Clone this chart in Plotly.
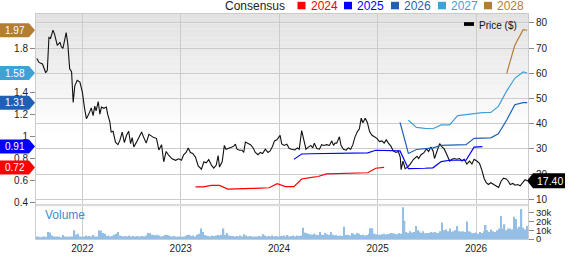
import plotly.graph_objects as go
import pandas as pd

# ---------------- data ----------------
price_dates = [
    "2021-07-16","2021-07-24","2021-08-06","2021-08-18","2021-08-24","2021-08-30","2021-09-05","2021-09-14",
    "2021-09-20","2021-09-30","2021-10-10","2021-10-15","2021-10-21","2021-11-02","2021-11-08","2021-11-15",
    "2021-11-22","2021-11-28","2021-12-04","2021-12-13","2021-12-23","2022-01-01","2022-01-09","2022-01-16",
    "2022-01-25","2022-02-03","2022-02-10","2022-02-16","2022-02-21","2022-03-01","2022-03-07","2022-03-13",
    "2022-03-22","2022-03-31","2022-04-05","2022-04-13","2022-04-18","2022-04-25","2022-05-04","2022-05-13",
    "2022-05-20","2022-05-29","2022-06-06","2022-06-14","2022-06-22","2022-06-29","2022-07-05","2022-07-11",
    "2022-07-21","2022-07-30","2022-08-09","2022-08-17","2022-08-26","2022-09-05","2022-09-14","2022-09-23",
    "2022-10-03","2022-10-12","2022-10-22","2022-10-30","2022-11-08","2022-11-18","2022-11-30","2022-12-13",
    "2022-12-25","2023-01-04","2023-01-12","2023-01-21","2023-01-29","2023-02-06","2023-02-15","2023-02-25",
    "2023-03-07","2023-03-19","2023-03-28","2023-04-06","2023-04-15","2023-04-25","2023-05-04","2023-05-13",
    "2023-05-20","2023-05-25","2023-06-04","2023-06-12","2023-06-18","2023-06-28","2023-07-08","2023-07-17",
    "2023-07-23","2023-07-29","2023-08-07","2023-08-17","2023-08-23","2023-08-29","2023-09-08","2023-09-17",
    "2023-09-27","2023-10-05","2023-10-15","2023-10-24","2023-11-01","2023-11-11","2023-11-21","2023-11-29",
    "2023-12-08","2023-12-15","2023-12-24","2024-01-05","2024-01-11","2024-01-20","2024-01-30","2024-02-08",
    "2024-02-17","2024-02-29","2024-03-09","2024-03-16","2024-03-25","2024-04-03","2024-04-10","2024-04-19",
    "2024-04-28","2024-05-05","2024-05-11","2024-05-20","2024-05-30","2024-06-07","2024-06-16","2024-06-26",
    "2024-07-06","2024-07-15","2024-07-21","2024-07-27","2024-08-02","2024-08-12","2024-08-18","2024-08-27",
    "2024-09-06","2024-09-14","2024-09-23","2024-10-01","2024-10-09","2024-10-18","2024-10-25","2024-11-01",
    "2024-11-07","2024-11-16","2024-11-24","2024-12-02","2024-12-11","2024-12-20","2024-12-29","2025-01-08",
    "2025-01-17","2025-01-25","2025-02-02","2025-02-10","2025-02-19","2025-02-28","2025-03-10","2025-03-19",
    "2025-03-26","2025-03-29","2025-04-05","2025-04-13","2025-04-22","2025-05-02","2025-05-14","2025-05-27",
    "2025-06-02","2025-06-11","2025-06-21","2025-07-01","2025-07-09","2025-07-18","2025-07-26","2025-07-31",
    "2025-08-09","2025-08-19","2025-08-28","2025-09-05","2025-09-15","2025-09-25","2025-10-04","2025-10-12",
    "2025-10-22","2025-11-01","2025-11-10","2025-11-18","2025-11-28","2025-12-08","2025-12-17","2025-12-25",
    "2026-01-04","2026-01-14","2026-01-23","2026-01-31","2026-02-08","2026-02-16","2026-02-25","2026-03-07",
    "2026-03-17","2026-03-26","2026-04-04","2026-04-13","2026-04-23","2026-05-01","2026-05-08","2026-05-18",
    "2026-05-26","2026-06-04","2026-06-14","2026-06-24","2026-07-02","2026-07-10",
]
price_values = [
    65.9, 64.3, 63.7, 60.2, 61.2, 74.2, 73.8, 77.1,
    75.4, 71.1, 72.3, 70.5, 69.9, 76.1, 71.7, 61.8,
    60.6, 48.4, 55.0, 57.2, 56.5, 52.5, 46.3, 42.0,
    43.8, 46.3, 43.2, 47.0, 45.1, 48.8, 43.8, 46.6,
    46.1, 46.6, 43.8, 40.7, 36.7, 37.0, 32.7, 31.7,
    33.3, 36.7, 32.5, 35.4, 37.0, 32.1, 34.5, 30.8,
    32.7, 34.5, 36.7, 34.5, 32.3, 35.8, 35.2, 34.5,
    34.2, 29.6, 31.7, 24.9, 29.0, 27.4, 26.1, 25.5,
    26.1, 25.5, 27.7, 28.6, 30.4, 28.6, 28.2, 26.7,
    23.3, 22.0, 24.9, 24.5, 25.8, 23.6, 22.4, 23.6,
    27.4, 22.8, 24.9, 31.4, 29.9, 30.2, 30.7, 31.1,
    31.9, 29.9, 29.5, 29.5, 28.6, 32.7, 32.3, 31.7,
    30.4, 28.6, 27.7, 28.6, 28.2, 29.9, 28.6, 29.2,
    31.1, 33.2, 33.6, 35.4, 32.0, 31.4, 31.9, 30.2,
    29.9, 29.6, 30.4, 29.9, 37.3, 33.6, 29.9, 30.7,
    31.4, 30.4, 32.3, 30.2, 29.9, 31.7, 31.4, 31.7,
    31.4, 33.2, 31.4, 32.3, 32.3, 34.8, 31.4, 29.9,
    29.5, 30.4, 29.9, 31.7, 34.8, 36.9, 37.9, 42.2,
    40.4, 42.2, 40.4, 36.9, 35.4, 34.8, 34.2, 32.9,
    33.2, 32.3, 33.6, 32.3, 31.1, 29.2, 28.6, 29.0,
    26.7, 21.8, 25.2, 22.2, 22.8, 24.0, 25.9, 27.1,
    26.2, 27.7, 28.4, 30.0, 29.0, 30.8, 29.0, 26.2,
    29.0, 32.1, 30.8, 30.0, 27.7, 25.2, 25.9, 26.2,
    25.9, 26.2, 25.2, 25.9, 24.0, 25.2, 24.0, 25.9,
    25.2, 24.3, 21.5, 18.4, 16.6, 15.9, 16.6, 15.9,
    15.4, 14.7, 17.2, 18.4, 18.1, 17.2, 15.9, 16.3,
    15.6, 15.9, 15.4, 16.6, 17.8, 17.4,
]

eps2024_dates = ["2023-02-25","2023-03-25","2023-04-25","2023-05-25","2023-06-25","2023-07-25",
                 "2023-08-25","2023-09-25","2023-10-25","2023-11-25","2023-12-25","2024-01-25",
                 "2024-02-25","2024-03-25","2024-04-25","2024-05-25","2024-06-25","2024-07-25",
                 "2024-08-25","2024-09-25","2024-10-25","2024-11-25","2024-12-25","2025-01-25"]
eps2024_values = [0.543, 0.543, 0.556, 0.556, 0.522, 0.526, 0.528, 0.528, 0.531, 0.534, 0.571, 0.545,
                  0.545, 0.614, 0.626, 0.637, 0.661, 0.662, 0.663, 0.665, 0.667, 0.671, 0.712, 0.72]

eps2025_dates = ["2024-02-25","2024-03-25","2024-04-25","2024-05-25","2024-06-25","2024-07-25",
                 "2024-08-25","2024-09-25","2024-10-25","2024-11-25","2024-12-25","2025-01-25",
                 "2025-02-25","2025-03-25","2025-04-25","2025-05-25","2025-06-25","2025-07-25",
                 "2025-08-25","2025-09-25","2025-10-25","2025-11-25","2025-12-25","2026-01-25"]
eps2025_values = [0.793, 0.842, 0.844, 0.845, 0.846, 0.847, 0.848, 0.849, 0.850, 0.853, 0.876, 0.876,
                  0.876, 0.870, 0.708, 0.708, 0.712, 0.716, 0.773, 0.785, 0.785, 0.785, 0.904, 0.91]

eps2026_dates = ["2025-03-25","2025-04-25","2025-05-25","2025-06-25","2025-07-25","2025-08-25",
                 "2025-09-25","2025-10-25","2025-11-25","2025-12-25","2026-01-25","2026-02-25",
                 "2026-03-25","2026-04-25","2026-05-25","2026-06-25","2026-07-10"]
eps2026_values = [1.131, 0.847, 0.883, 0.892, 0.898, 0.921, 0.924, 0.927, 0.927, 0.985, 0.987, 0.989,
                  1.026, 1.152, 1.291, 1.31, 1.31]

eps2027_dates = ["2025-04-25","2025-05-25","2025-06-25","2025-07-25","2025-08-25","2025-09-25",
                 "2025-10-25","2025-11-25","2025-12-25","2026-01-25","2026-02-25","2026-03-25",
                 "2026-04-25","2026-05-25","2026-06-25","2026-07-10"]
eps2027_values = [1.15, 1.084, 1.075, 1.072, 1.107, 1.107, 1.192, 1.203, 1.212, 1.219, 1.22, 1.276,
                  1.417, 1.532, 1.59, 1.58]

eps2028_dates = ["2026-04-25","2026-05-25","2026-06-25","2026-07-10"]
eps2028_values = [1.577, 1.833, 1.975, 1.97]

# weekly volume, thousands of shares
volume_k = [
    3, 2.5, 2, 2.5, 3, 2.5, 8, 7.5, 4, 3, 2.5, 3, 2.5, 2, 4.5, 3, 2.5, 3, 2.5, 3, 10, 5, 6, 3, 2.5, 3,
    4, 3, 3.5, 3, 4.5, 3, 3, 10, 9.5, 7, 6, 3.5, 4, 3, 3.5, 5, 6, 8, 4, 3.5, 3, 3.5, 3, 4, 3, 3.5,
    3, 3.5, 3, 3, 3.5, 3, 4, 7, 6.5, 5, 4.5, 4, 5, 4, 3, 3.5, 5, 4.5, 4, 3, 3, 3.5, 2.5, 3, 3, 2.5,
    3, 3.5, 4.5, 5, 3.5, 4, 3, 5, 6, 12, 8, 4.5, 4, 3.5, 3, 4, 3.5, 4, 4.5, 4, 5, 12, 5, 7, 4, 3.5,
    3.5, 3, 3.5, 3, 4, 3, 5.5, 4, 3, 3.5, 3, 2.5, 3, 3, 3.5, 3, 5.5, 4, 3, 3.5, 3, 4, 3, 3.5, 3, 3.5,
    3.5, 4, 3, 4.5, 3, 3.5, 4, 3, 4, 3.5, 4, 13, 7.5, 7, 6, 5.5, 5, 6, 5, 4.5, 8, 5, 4.5, 7, 5.5, 5,
    8, 5, 4, 4.5, 3.5, 4, 3.5, 14, 4.5, 5, 4, 7, 6, 5, 7, 6, 4.5, 5, 4, 4.5, 6, 12.5, 12.5, 6, 5.5, 5,
    5, 5.5, 6, 5, 5.5, 6, 7, 6.5, 6, 5.5, 7, 6, 36.5, 21, 8, 7, 9, 7.5, 8, 15, 10, 8.5, 7, 9, 6.5, 7,
    7, 8, 7.5, 8, 6.5, 7, 9, 19, 10, 11, 9, 12, 8, 9, 10, 15, 9, 8.5, 9, 8, 20, 9, 8, 6.5, 7, 7.5,
    6, 8, 7, 9, 16, 10, 8, 11, 9, 8, 10, 12, 26.5, 12, 17, 10, 12, 12, 11, 25.5, 23, 12, 14, 34.5, 13, 11, 15,
]
volume_dates = pd.date_range("2021-07-16", periods=len(volume_k), freq="7D")

series_years = ["2024", "2025", "2026", "2027", "2028"]
series_colors = ["#ff0000", "#0000ff", "#1f5fb4", "#3fa2d5", "#b37d32"]
badge_labels = ["0.72", "0.91", "1.31", "1.58", "1.97"]
last_price_label = "17.40"
eps_tick_values = [0.4, 0.6, 0.8, 1.0, 1.2, 1.4, 1.8]
volume_tick_values = [0, 10000, 20000, 30000]
volume_tick_text = ["0", "10k", "20k", "30k"]

# ---------------- figure ----------------
FONT = "Liberation Sans, Arial, sans-serif"
fig = go.Figure()

fig.add_trace(go.Bar(x=volume_dates, y=[v * 1000 for v in volume_k], xaxis="x2", yaxis="y3",
                     marker=dict(color="#93bfe7", line=dict(width=0)), hoverinfo="skip"))

fig.add_trace(go.Scatter(x=price_dates, y=price_values, mode="lines", xaxis="x", yaxis="y",
                         line=dict(color="#111111", width=1.1)))

eps_sets = [(eps2024_dates, eps2024_values), (eps2025_dates, eps2025_values),
            (eps2026_dates, eps2026_values), (eps2027_dates, eps2027_values),
            (eps2028_dates, eps2028_values)]
for (d, v), c in zip(eps_sets, series_colors):
    fig.add_trace(go.Scatter(x=d, y=v, mode="lines", xaxis="x", yaxis="y2",
                             line=dict(color=c, width=1.2)))

x_range = ["2021-07-13", "2026-07-13"]
grid = "#cccccc"
tickfont = dict(family=FONT, size=10, color="#222222")
voltickfont = dict(family=FONT, size=9.5, color="#222222")

shapes = []
# gradient background in price pane
N = 40
for k in range(N):
    t = k / N
    g = int(round(226 + (255 - 226) * min(1.0, t / 0.62)))
    col = f"rgb({g},{g},{g})"
    shapes.append(dict(type="rect", xref="x domain", yref="y domain", x0=0, x1=1,
                       y0=1 - (k + 1) / N, y1=1 - k / N, fillcolor=col,
                       line=dict(width=0), layer="below"))
# pane separator
shapes.append(dict(type="rect", xref="paper", yref="paper", x0=0, x1=1, y0=0.146, y1=0.154,
                   fillcolor="#dddddd", line=dict(width=0), layer="above"))

annotations = []
# EPS badges (left)
for lab, val_txt, c in zip(series_years, badge_labels, series_colors):
    val = float(val_txt)
    shapes.append(dict(type="path", xref="paper", yref="y2", xsizemode="pixel", ysizemode="pixel",
                       xanchor=0, yanchor=val,
                       path="M -36,-7 L -7,-7 L -1,0 L -7,7 L -36,7 Z",
                       fillcolor=c, line=dict(width=0), layer="above"))
    annotations.append(dict(xref="paper", yref="y2", x=0, y=val, xshift=-21, text=val_txt,
                            showarrow=False, xanchor="center", yanchor="middle",
                            font=dict(family=FONT, size=10, color="white")))
# price badge (right)
last_price = float(last_price_label)
shapes.append(dict(type="path", xref="paper", yref="y", xsizemode="pixel", ysizemode="pixel",
                   xanchor=1, yanchor=last_price,
                   path="M -1,0 L 5,-7.5 L 37,-7.5 L 37,7.5 L 5,7.5 Z",
                   fillcolor="#000000", line=dict(width=0), layer="above"))
annotations.append(dict(xref="paper", yref="y", x=1, y=last_price, xshift=21.5, text=last_price_label,
                        showarrow=False, xanchor="center", yanchor="middle",
                        font=dict(family=FONT, size=10.5, color="white")))

# top legend
PW = 492.0
def px2p(px):
    return (px - 36) / PW
def py2p(py):
    return (254 - py) / 240.0

annotations.append(dict(xref="paper", yref="paper", x=px2p(223), y=py2p(5), text="Consensus",
                        showarrow=False, xanchor="left", yanchor="middle",
                        font=dict(family=FONT, size=12, color="#222222")))
sq_left = [297.5, 344, 391, 438, 484]
for lab, c, sx in zip(series_years, series_colors, sq_left):
    shapes.append(dict(type="rect", xref="paper", yref="paper", x0=px2p(sx), x1=px2p(sx + 8),
                       y0=py2p(9), y1=py2p(1), fillcolor=c, line=dict(width=0), layer="above"))
    annotations.append(dict(xref="paper", yref="paper", x=px2p(sx + 11), y=py2p(5), text=lab,
                            showarrow=False, xanchor="left", yanchor="middle",
                            font=dict(family=FONT, size=12, color=c)))

# price legend
shapes.append(dict(type="rect", xref="paper", yref="paper", x0=px2p(464), x1=px2p(474),
                   y0=py2p(26.7), y1=py2p(22.7), fillcolor="#000000", line=dict(width=0), layer="above"))
annotations.append(dict(xref="paper", yref="paper", x=px2p(477), y=py2p(25.8), text="Price ($)",
                        showarrow=False, xanchor="left", yanchor="middle",
                        font=dict(family=FONT, size=10, color="#111111")))
# volume label
annotations.append(dict(xref="paper", yref="paper", x=px2p(43), y=py2p(228.5), text="Volume",
                        showarrow=False, xanchor="left", yanchor="middle",
                        font=dict(family=FONT, size=12, color="#3a8dd0")))

fig.update_layout(
    width=568, height=264,
    margin=dict(l=36, r=40, t=14, b=10),
    paper_bgcolor="white", plot_bgcolor="white",
    showlegend=False, bargap=0.25,
    font=dict(family=FONT),
    xaxis=dict(domain=[0, 1], anchor="y", type="date", range=x_range,
               tick0="2022-01-01", dtick="M12", showgrid=True, gridcolor=grid, gridwidth=1,
               showticklabels=False, ticks="", showline=True, linecolor=grid, mirror=True,
               zeroline=False),
    yaxis=dict(domain=[0.154, 1], anchor="x", side="right", range=[8.03, 83.5],
               tick0=0, dtick=10, showgrid=True, gridcolor=grid, gridwidth=1,
               ticks="outside", ticklen=5, tickcolor="#888888", tickfont=tickfont,
               showline=True, linecolor=grid, mirror=True, zeroline=False),
    yaxis2=dict(overlaying="y", side="left", range=[0.383, 2.118],
                tickvals=eps_tick_values, ticktext=[f"{v:g}" for v in eps_tick_values],
                showgrid=False, ticks="outside", ticklen=5, tickcolor="#888888",
                tickfont=tickfont, zeroline=False, showline=False),
    xaxis2=dict(domain=[0, 1], anchor="y3", type="date", range=x_range, matches="x",
                tick0="2022-01-01", dtick="M12", tickformat="%Y", showgrid=True, gridcolor=grid,
                gridwidth=1, ticks="", tickfont=tickfont, showline=True, linecolor=grid,
                mirror=True, zeroline=False),
    yaxis3=dict(domain=[0, 0.146], anchor="x2", side="right", range=[0, 37800],
                tickvals=volume_tick_values, ticktext=volume_tick_text,
                showgrid=False, ticks="outside", ticklen=5, tickcolor="#888888",
                tickfont=voltickfont, showline=True, linecolor=grid, mirror=True, zeroline=False),
    shapes=shapes, annotations=annotations,
)

fig.write_html("out.html")
